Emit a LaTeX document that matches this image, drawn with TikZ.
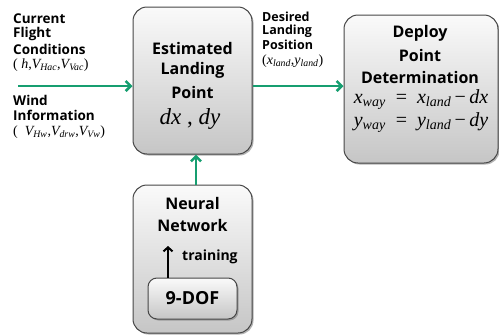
\documentclass[tikz,border=0pt]{standalone}
\usepackage{fontspec}
\setmainfont{Open Sans}
\newfontfamily\tms{Liberation Serif}
\usetikzlibrary{arrows.meta,shadows}
\definecolor{grn}{RGB}{22,158,112}
\definecolor{boxedge}{RGB}{70,70,70}
\newcommand\sv[2]{{\tms\itshape #1}\textsubscript{\tms\itshape #2}}
\newcommand\iv[1]{{\tms\itshape #1}}
\tikzset{
  box/.style={rectangle, rounded corners=14pt, draw=boxedge, line width=1pt,
    top color=white!96!gray, bottom color=gray!45, inner sep=0pt,
    drop shadow={shadow xshift=1.5pt, shadow yshift=-1.5pt, fill=black!50, opacity=0.6}},
  bigtxt/.style={font=\fontsize{16}{22}\selectfont\bfseries, align=center, inner sep=0pt},
  smalltxt/.style={font=\fontsize{13.5}{15}\selectfont\bfseries, align=left, anchor=west, inner sep=0pt},
  midtxt/.style={font=\fontsize{12.5}{14}\selectfont\bfseries, align=left, anchor=west, inner sep=0pt},
  mathtxt/.style={font=\fontsize{14}{15}\selectfont\tms, anchor=west, inner sep=0pt},
  eqtxt/.style={font=\fontsize{20}{22}\selectfont\tms, inner sep=0pt},
  garrow/.style={draw=grn, line width=2.6pt, -{Straight Barb[length=5pt,width=10pt,line width=2.6pt]}},
  barrow/.style={draw=black, line width=2pt, -{Straight Barb[length=4pt,width=9pt,line width=2pt]}},
}
\begin{document}
\begin{tikzpicture}[x=1pt,y=-1pt]
\useasboundingbox (0,0) rectangle (499,335);
% boxes
\node[box, minimum width=119pt, minimum height=147pt] (est) at (192.5,80.5) {};
\node[box, minimum width=154pt, minimum height=148pt] (dep) at (421,89) {};
\node[box, minimum width=119pt, minimum height=148pt] (nn) at (192.5,259) {};
\node[box, rounded corners=9pt, minimum width=89pt, minimum height=41pt] (dof) at (192.5,298.5) {};
% box texts
\node[bigtxt] (t1) at (192.5,48) {Estimated};
\node[bigtxt] (t2) at (192.5,70) {Landing};
\node[bigtxt] (t3) at (192.5,92) {Point};
\node[eqtxt, font=\fontsize{23}{24}\selectfont\tms] (t4) at (190,119) {\iv{dx} , \iv{dy}};
\node[bigtxt] (d1) at (420,33) {Deploy};
\node[bigtxt] (d2) at (420,55) {Point};
\node[bigtxt] (d3) at (420,77) {Determination};
\node[eqtxt] (d4) at (421,100) {\sv{x}{way}\enspace=\enspace\sv{x}{land}\,−\,\iv{dx}};
\node[eqtxt] (d5) at (421,123) {\sv{y}{way}\enspace=\enspace\sv{y}{land}\,−\,\iv{dy}};
\node[bigtxt] (n1) at (192.5,203) {Neural};
\node[bigtxt] (n2) at (192.5,225) {Network};
\node[bigtxt, font=\fontsize{18}{22}\selectfont\bfseries] (n3) at (192.5,298) {9-DOF};
\node[smalltxt, font=\fontsize{14}{15}\selectfont\bfseries] (tr) at (182,257) {training};
% left labels
\node[smalltxt] (l1) at (13,19) {Current};
\node[smalltxt] (l2) at (13,34) {Flight};
\node[smalltxt] (l3) at (13,49) {Conditions};
\node[mathtxt] (l4) at (13,65) {( \iv{h},\sv{V}{Hac},\sv{V}{Vac})};
\node[smalltxt] (w1) at (13,100) {Wind};
\node[smalltxt] (w2) at (13,115) {Information};
\node[mathtxt] (w3) at (13,132) {(\ \ \sv{V}{Hw},\sv{V}{drw},\sv{V}{Vw})};
% middle labels
\node[midtxt] (p1) at (262,17) {Desired};
\node[midtxt] (p2) at (262,31) {Landing};
\node[midtxt] (p3) at (262,45) {Position};
\node[mathtxt] (p4) at (262,61) {(\sv{x}{land},\sv{y}{land})};
% connectors
\coordinate (lin) at (18,86);
\draw[garrow] (lin) -- (lin -| est.west);
\coordinate (rin) at (252,86);
\draw[garrow] (rin -| est.east) -- (rin -| dep.west);
\coordinate (ua) at (196,170);
\draw[garrow] (ua |- nn.north) -- (ua |- est.south);
\coordinate (tt) at (168,246);
\draw[barrow] (tt |- dof.north) -- (tt);
\end{tikzpicture}
\end{document}
